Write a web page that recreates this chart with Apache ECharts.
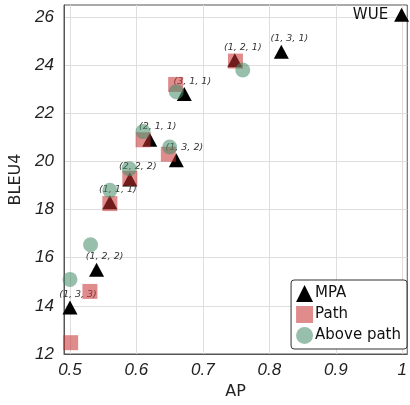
<!DOCTYPE html>
<html><head><meta charset="utf-8">
<script src="https://cdn.jsdelivr.net/npm/echarts@6/dist/echarts.min.js"></script>
<style>html,body{margin:0;padding:0;background:#fff}#c{width:410px;height:405px}</style>
</head><body><div id="c"></div>
<script>
const xTicks = [0.5, 0.6, 0.7, 0.8, 0.9, 1];
const yTicks = [12, 14, 16, 18, 20, 22, 24, 26];
const mpaNames = ['(1, 3, 3)', '(1, 2, 2)', '(1, 1, 1)', '(2, 2, 2)', '(2, 1, 1)', '(1, 3, 2)', '(3, 1, 1)', '(1, 2, 1)', '(1, 3, 1)', 'WUE'];
const mpaAP =   [0.500, 0.540, 0.560, 0.590, 0.620, 0.660, 0.672, 0.748, 0.818, 0.999];
const mpaBLEU = [13.93, 15.50, 18.30, 19.25, 20.90, 20.05, 22.80, 24.20, 24.56, 26.10];
const pathAP =   [0.501, 0.530, 0.560, 0.590, 0.610, 0.648, 0.659, 0.749];
const pathBLEU = [12.47, 14.60, 18.25, 19.30, 20.90, 20.30, 23.20, 24.17];
const abovAP =   [0.500, 0.531, 0.560, 0.589, 0.610, 0.650, 0.660, 0.760];
const abovBLEU = [15.10, 16.54, 18.80, 19.70, 21.24, 20.60, 22.90, 23.80];

const chart = echarts.init(document.getElementById('c'), null, {renderer: 'canvas'});
const tickFont = {fontFamily: 'Liberation Sans', fontStyle: 'italic', fontSize: 17, color: '#222'};
const mpaData = mpaAP.map((x, i) => {
  const d = {value: [x, mpaBLEU[i]], name: mpaNames[i]};
  if (mpaNames[i] === 'WUE') {
    d.label = {position: 'left', offset: [0, 0], distance: 6, fontStyle: 'normal', fontFamily: 'DejaVu Sans', fontSize: 15, color: '#111'};
  }
  return d;
});
chart.setOption({
  animation: false,
  grid: {left: 64, right: 2, top: 5, bottom: 47, show: true, borderColor: '#555', borderWidth: 1, backgroundColor: 'transparent'},
  xAxis: {
    type: 'value', min: 0.491, max: 1.0075,
    name: 'AP', nameLocation: 'middle', nameGap: 30,
    nameTextStyle: {fontFamily: 'DejaVu Sans', fontSize: 16, color: '#222'},
    axisLine: {show: true, lineStyle: {color: '#555', width: 1}},
    axisTick: {show: false, customValues: xTicks},
    axisLabel: Object.assign({customValues: xTicks, margin: 8, formatter: v => String(+v.toFixed(1))}, tickFont),
    splitLine: {show: true, lineStyle: {color: '#dedede', width: 1}}
  },
  yAxis: {
    type: 'value', min: 12, max: 26.5,
    name: 'BLEU4', nameLocation: 'middle', nameGap: 40,
    nameTextStyle: {fontFamily: 'DejaVu Sans', fontSize: 16, color: '#222'},
    axisLine: {show: true, lineStyle: {color: '#555', width: 1}},
    axisTick: {show: false, customValues: yTicks},
    axisLabel: Object.assign({customValues: yTicks, margin: 10}, tickFont),
    splitLine: {show: true, lineStyle: {color: '#dedede', width: 1}}
  },
  legend: {
    orient: 'vertical', right: 3, bottom: 56,
    backgroundColor: '#fff', borderColor: '#333', borderWidth: 1, borderRadius: 3,
    padding: [5, 6, 5, 5], itemGap: 4, itemWidth: 17, itemHeight: 17,
    textStyle: {fontFamily: 'DejaVu Sans', fontSize: 15, color: '#111', padding: [0, 0, 0, -3]},
    data: [{name: 'MPA', icon: 'triangle'}, {name: 'Path', icon: 'rect'}, {name: 'Above path', icon: 'circle'}]
  },
  series: [
    {
      name: 'MPA', type: 'scatter', symbol: 'triangle', symbolSize: [15, 14], clip: false,
      itemStyle: {color: '#000', opacity: 1},
      label: {show: true, position: 'top', offset: [8, 4], formatter: p => p.name,
        fontFamily: 'DejaVu Sans', fontStyle: 'italic', fontSize: 9.5, color: '#333'},
      data: mpaData, z: 2
    },
    {
      name: 'Path', type: 'scatter', symbol: 'rect', symbolSize: 15, clip: false,
      itemStyle: {color: 'rgba(200,50,50,0.7)'},
      data: pathAP.map((x, i) => [x, pathBLEU[i]]), z: 3
    },
    {
      name: 'Above path', type: 'scatter', symbol: 'circle', symbolSize: 15, clip: false,
      itemStyle: {color: 'rgba(70,140,105,0.7)'},
      data: abovAP.map((x, i) => [x, abovBLEU[i]]), z: 4
    }
  ]
});
</script></body></html>
